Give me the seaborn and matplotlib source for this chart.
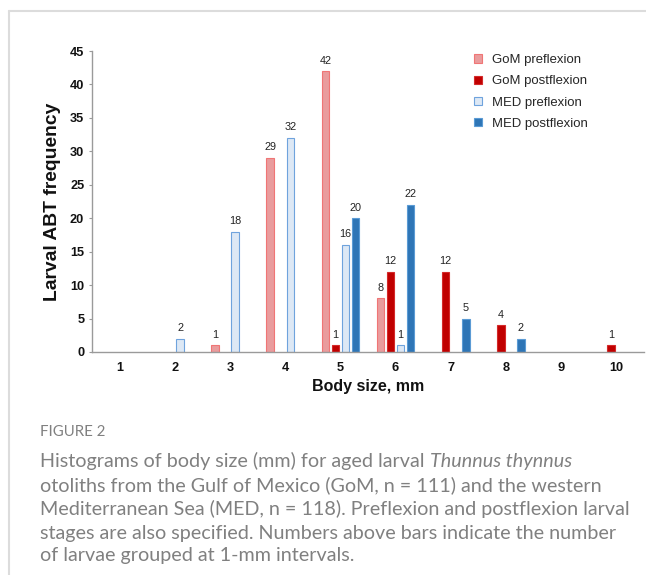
import matplotlib
matplotlib.use("Agg")
import matplotlib.pyplot as plt
import seaborn as sns
import pandas as pd
from matplotlib.lines import Line2D
from matplotlib.patches import Patch

# Body size classes (mm)
sizes = ["1", "2", "3", "4", "5", "6", "7", "8", "9", "10"]

# Larval counts per size class
gom_pre = [0, 0, 1, 29, 42, 8, 0, 0, 0, 0]
gom_post = [0, 0, 0, 0, 1, 12, 12, 4, 0, 1]
med_pre = [0, 2, 18, 32, 16, 1, 0, 0, 0, 0]
med_post = [0, 0, 0, 0, 20, 22, 5, 2, 0, 0]

groups = ["GoM preflexion", "GoM postflexion", "MED preflexion", "MED postflexion"]
fills = ["#E99C9D", "#C00000", "#DDE8F5", "#2E75B6"]
edges = ["#F07575", "#D42A2A", "#6FA3DD", "#5B9BD5"]

df = pd.DataFrame({
    "size": sizes * 4,
    "group": [g for g in groups for _ in sizes],
    "count": gom_pre + gom_post + med_pre + med_post,
})

sns.set_style("white")
plt.rcParams["font.family"] = ["Liberation Sans", "DejaVu Sans"]

fig = plt.figure(figsize=(6.46, 5.75), dpi=100)
ax = fig.add_axes([92.5 / 646, 1 - 352 / 575, (643.5 - 92.5) / 646, (352 - 51) / 575])

sns.barplot(data=df, x="size", y="count", hue="group", order=sizes,
            hue_order=groups, palette=fills, width=0.73, gap=0.24,
            dodge=True, ax=ax, legend=False, saturation=1)

for cont, ec in zip(ax.containers, edges):
    for bar in cont:
        bar.set_edgecolor(ec)
        bar.set_linewidth(0.8)
        if bar.get_height() <= 0:
            bar.set_visible(False)
    labels = [f"{int(b.get_height())}" if b.get_height() > 0 else "" for b in cont]
    ax.bar_label(cont, labels=labels, padding=4, fontsize=7.8, color="#222222")

ax.set_ylim(0, 45)
ax.set_yticks(range(0, 46, 5))
ax.set_xlim(-0.5, 9.5)

for side in ("top", "right"):
    ax.spines[side].set_visible(False)
for side in ("left", "bottom"):
    ax.spines[side].set_color("#9A9A9A")
    ax.spines[side].set_linewidth(1.0)

ax.tick_params(axis="y", left=True, length=2.5, width=0.8, color="#9A9A9A",
               labelsize=9.2, pad=3.5)
ax.tick_params(axis="x", bottom=False, labelsize=9.2, pad=4)
for lab in ax.get_xticklabels() + ax.get_yticklabels():
    lab.set_fontweight("bold")
    lab.set_color("#111111")

ax.set_xlabel("Body size, mm", fontsize=11.5, fontweight="bold", labelpad=3,
              color="#111111")
ax.set_ylabel("Larval ABT frequency", fontsize=13.9, fontweight="bold",
              labelpad=6, color="#111111")

handles = [Patch(facecolor=f, edgecolor=e, linewidth=0.8) for f, e in zip(fills, edges)]
ax.legend(handles, groups, loc="upper left", bbox_to_anchor=(0.683, 1.0066),
          frameon=False, fontsize=9.45, handlelength=0.6, handleheight=0.6,
          handletextpad=0.8, labelspacing=0.70, borderaxespad=0)

# Frame around the figure panel
fig.add_artist(Line2D([8.5 / 646, 1], [1 - 10.5 / 575, 1 - 10.5 / 575],
                      transform=fig.transFigure, color="#DCDCDC", lw=1.5))
fig.add_artist(Line2D([8.5 / 646, 8.5 / 646], [0, 1 - 10.5 / 575],
                      transform=fig.transFigure, color="#DCDCDC", lw=1.5))

# Caption
cap_color = "#808080"
cap_font = ["Lato", "DejaVu Sans"]
fig.text(40 / 646, 1 - 432 / 575, "FIGURE 2", fontsize=10.8, color=cap_color,
         family=cap_font, va="center", ha="left")

lines = [
    "Histograms of body size (mm) for aged larval ",
    "otoliths from the Gulf of Mexico (GoM, n = 111) and the western",
    "Mediterranean Sea (MED, n = 118). Preflexion and postflexion larval",
    "stages are also specified. Numbers above bars indicate the number",
    "of larvae grouped at 1-mm intervals.",
]
ys = [461, 485, 509, 533, 556]
first = None
for txt, y in zip(lines, ys):
    t = fig.text(40 / 646, 1 - y / 575, txt, fontsize=14.2, color=cap_color,
                 family=cap_font, va="center", ha="left")
    if first is None:
        first = t
ax.annotate("Thunnus thynnus", xy=(1, 0.5), xycoords=first, va="center",
            ha="left", fontsize=14.2, color=cap_color, family=cap_font,
            style="italic", annotation_clip=False)

fig.savefig("out.png", dpi=100)
